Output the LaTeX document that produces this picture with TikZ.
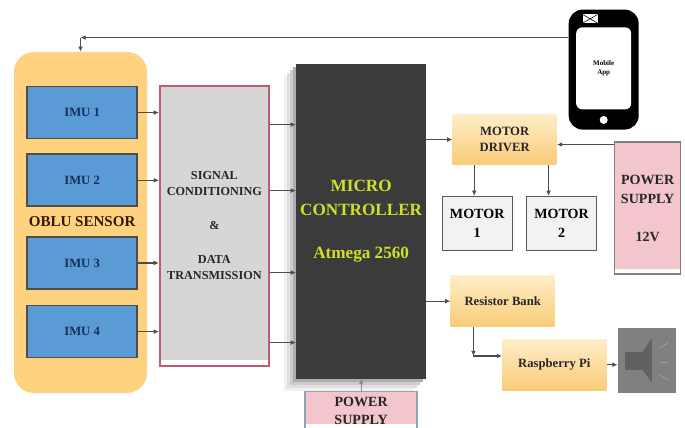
\documentclass[tikz,border=0pt]{standalone}
\usepackage{fontspec}
\setmainfont{Liberation Serif}
\usetikzlibrary{arrows.meta,positioning,calc,shadows}
\definecolor{oblufill}{HTML}{FFD27F}
\definecolor{imufill}{HTML}{5B9BD5}
\definecolor{imutext}{HTML}{12305C}
\definecolor{signalfill}{HTML}{D6D6D6}
\definecolor{signaledge}{HTML}{C25A70}
\definecolor{mcufill}{HTML}{3B3B3B}
\definecolor{mcutext}{HTML}{CFE02C}
\definecolor{powerfill}{HTML}{F3C6CD}
\definecolor{poweredge}{HTML}{8FA3B5}
\definecolor{orangetop}{HTML}{FFEDC8}
\definecolor{orangemid}{HTML}{FFD78F}
\definecolor{orangelow}{HTML}{F9CC78}
\tikzset{
  imubox/.style={
    draw=black!70,
    fill=imufill,
    line width=1.2pt,
    align=center,
    minimum width=2.75cm,
    minimum height=1.3cm,
    text=imutext,
    font=\fontsize{9}{11}\selectfont\bfseries
  },
  orangebox/.style={
    top color=orangetop,
    middle color=orangemid,
    bottom color=orangelow,
    align=center,
    minimum width=2.6cm,
    minimum height=1.275cm,
    inner sep=0pt,
    text=black!85,
    font=\fontsize{9}{11.3}\selectfont\bfseries
  },
  motorbox/.style={
    draw=black!65,
    fill=black!5,
    line width=1pt,
    align=center,
    minimum width=1.75cm,
    minimum height=1.35cm,
    inner sep=0pt,
    font=\fontsize{10}{13.5}\selectfont\bfseries
  },
  powerbox/.style={
    draw=black!50,
    fill=powerfill,
    line width=1pt,
    align=center,
    inner sep=0pt,
    text=black!85,
    font=\fontsize{10}{13.5}\selectfont\bfseries
  },
  whitefoot/.style={
    path picture={\fill[white] (path picture bounding box.south west) rectangle
      ([yshift=#1]path picture bounding box.south east);}
  },
  dataflow/.style={-{Latex[length=1.3mm,width=1.2mm]},line width=0.8pt,draw=black!70}
}
\begin{document}
\begin{tikzpicture}
  \useasboundingbox (0,0) rectangle (17.125,-10.675);

  \node[fill=oblufill,rounded corners=0.5cm,minimum width=3.325cm,minimum height=8.525cm] (oblu) at (2.0125,-5.5625) {};
  \node[imubox,below=0.85cm of oblu.north,xshift=0.04cm] (imuone) {IMU 1};
  \node[imubox,below=0.35cm of imuone] (imutwo) {IMU 2};
  \node[imubox,below=0.725cm of imutwo] (imuthree) {IMU 3};
  \node[imubox,below=0.375cm of imuthree] (imufour) {IMU 4};
  \node[text=black!80!orange,font=\fontsize{10.7}{12}\selectfont\bfseries] (obluname) at ($(imutwo.south)!0.5!(imuthree.north)$) {OBLU SENSOR};

  \node[draw=signaledge,fill=signalfill,whitefoot=0.13cm,line width=1.5pt,align=center,
    minimum width=2.72cm,minimum height=7cm,inner sep=0pt,text=black!85,
    font=\fontsize{8.7}{11.3}\selectfont\bfseries,
    below right=-0.03cm and 0.525cm of imuone.north east] (signal) {
    SIGNAL\\CONDITIONING\\[12.8pt]\&\\[12.8pt]DATA\\TRANSMISSION};

  \node[fill=mcufill,minimum width=3.25cm,minimum height=7.875cm,align=center,inner sep=0pt,
    general shadow={fill=black!6,shadow xshift=-0.3cm,shadow yshift=-0.3cm},
    general shadow={fill=black!12,shadow xshift=-0.23cm,shadow yshift=-0.23cm},
    general shadow={fill=black!20,shadow xshift=-0.16cm,shadow yshift=-0.16cm},
    general shadow={fill=black!32,shadow xshift=-0.08cm,shadow yshift=-0.08cm},
    text=mcutext,font=\fontsize{12.2}{17}\selectfont\bfseries,
    right=0.65cm of signal,yshift=0.11cm] (mcu) {
    MICRO\\CONTROLLER\\[14pt]Atmega 2560};

  \node[orangebox,minimum height=1.25cm,right=0.65cm of mcu,yshift=2.04cm] (driver) {MOTOR\\DRIVER};
  \node[motorbox,below=0.775cm of driver,xshift=-0.6875cm] (motorone) {MOTOR\\1};
  \node[motorbox,right=0.325cm of motorone] (motortwo) {MOTOR\\2};
  \node[powerbox,whitefoot=0.13cm,minimum width=1.65cm,minimum height=3.3cm,
    right=1.425cm of driver,yshift=-1.7125cm] (rightpower) {POWER\\SUPPLY\\[13.5pt]12V};
  \node[orangebox,right=0.6cm of mcu,yshift=-2cm] (resistor) {Resistor Bank};
  \node[orangebox,below right=0.3cm and -1.325cm of resistor.south east] (raspberry) {Raspberry Pi};
  \node[fill=black!50,minimum width=1.45cm,minimum height=1.625cm,right=0.275cm of raspberry,yshift=0.11cm] (speaker) {};
  \node[powerbox,whitefoot=0.15cm,draw=poweredge,minimum width=2.8cm,minimum height=0.95cm,
    font=\fontsize{10}{13}\selectfont\bfseries,below=0.3cm of mcu] (bottompower) {POWER\\SUPPLY};

  \node[fill=black,rounded corners=0.35cm,minimum width=1.75cm,minimum height=3cm,right=3.55cm of mcu,yshift=3.79cm] (phone) {};
  \node[fill=white,rounded corners=0.15cm,minimum width=1.375cm,minimum height=2.05cm,align=center,inner sep=0pt,
    font=\fontsize{5}{7}\selectfont\bfseries] (screen) at ([yshift=0.03cm]phone) {Mobile\\App};
  \node[circle,fill=white,minimum size=0.2cm,inner sep=0pt,below=0.15cm of screen] (homebutton) {};
  \node[fill=white,minimum width=0.38cm,minimum height=0.22cm,inner sep=0pt,above=0.09cm of screen,xshift=-0.34cm,
    path picture={\draw[black,line width=0.4pt] (path picture bounding box.south west) -- (path picture bounding box.north east)
      (path picture bounding box.north west) -- (path picture bounding box.south east);}] (phoneicon) {};

  \begin{scope}[shift={(speaker.center)}]
    \fill[black!62] (-0.55,0.21) rectangle (-0.1,-0.24);
    \fill[black!62] (-0.1,0.21) -- (0.125,0.56) -- (0.125,-0.56) -- (-0.1,-0.24) -- cycle;
    \draw[black!38,line width=0.6pt] (0.325,0.31) -- (0.525,0.44);
    \draw[black!38,line width=0.6pt] (0.325,-0.04) -- (0.525,-0.04);
    \draw[black!38,line width=0.6pt] (0.325,-0.36) -- (0.525,-0.49);
  \end{scope}

  \coordinate[above=0.8cm of phone.west] (phonelink);
  \coordinate (topcorner) at (phonelink -| oblu.north);
  \coordinate[above=2.525cm of signal.east] (signaloutone);
  \coordinate[above=0.875cm of signal.east] (signalouttwo);
  \coordinate[below=1.175cm of signal.east] (signaloutthree);
  \coordinate[below=2.925cm of signal.east] (signaloutfour);
  \coordinate[below=0.125cm of driver.east] (driverfeed);
  \coordinate[below=0.725cm of resistor.south west,xshift=0.575cm] (bankcorner);

  \draw[dataflow] (phonelink) -- (topcorner);
  \draw[dataflow] (topcorner) -- (oblu.north);
  \draw[dataflow] (imuone) -- (imuone -| signal.west);
  \draw[dataflow] (imutwo) -- (imutwo -| signal.west);
  \draw[dataflow] (imuthree) -- (imuthree -| signal.west);
  \draw[dataflow] (imufour) -- (imufour -| signal.west);
  \draw[dataflow] (signaloutone) -- (signaloutone -| mcu.west);
  \draw[dataflow] (signalouttwo) -- (signalouttwo -| mcu.west);
  \draw[dataflow] (signaloutthree) -- (signaloutthree -| mcu.west);
  \draw[dataflow] (signaloutfour) -- (signaloutfour -| mcu.west);
  \draw[dataflow] (driver -| mcu.east) -- (driver);
  \draw[dataflow] (driverfeed -| rightpower.west) -- (driverfeed);
  \draw[dataflow] ([xshift=-0.075cm]motorone.north |- driver.south) -- ([xshift=-0.075cm]motorone.north);
  \draw[dataflow] ([xshift=-0.325cm]motortwo.north |- driver.south) -- ([xshift=-0.325cm]motortwo.north);
  \draw[dataflow] (resistor -| mcu.east) -- (resistor);
  \draw[dataflow] (bankcorner |- resistor.south) -- (bankcorner);
  \draw[dataflow] (bankcorner) -- (bankcorner -| raspberry.west);
  \draw[dataflow] (raspberry) -- (raspberry -| speaker.west);
  \draw[dataflow,draw=black!45] (bottompower) -- (bottompower |- mcu.south);
\end{tikzpicture}
\end{document}
